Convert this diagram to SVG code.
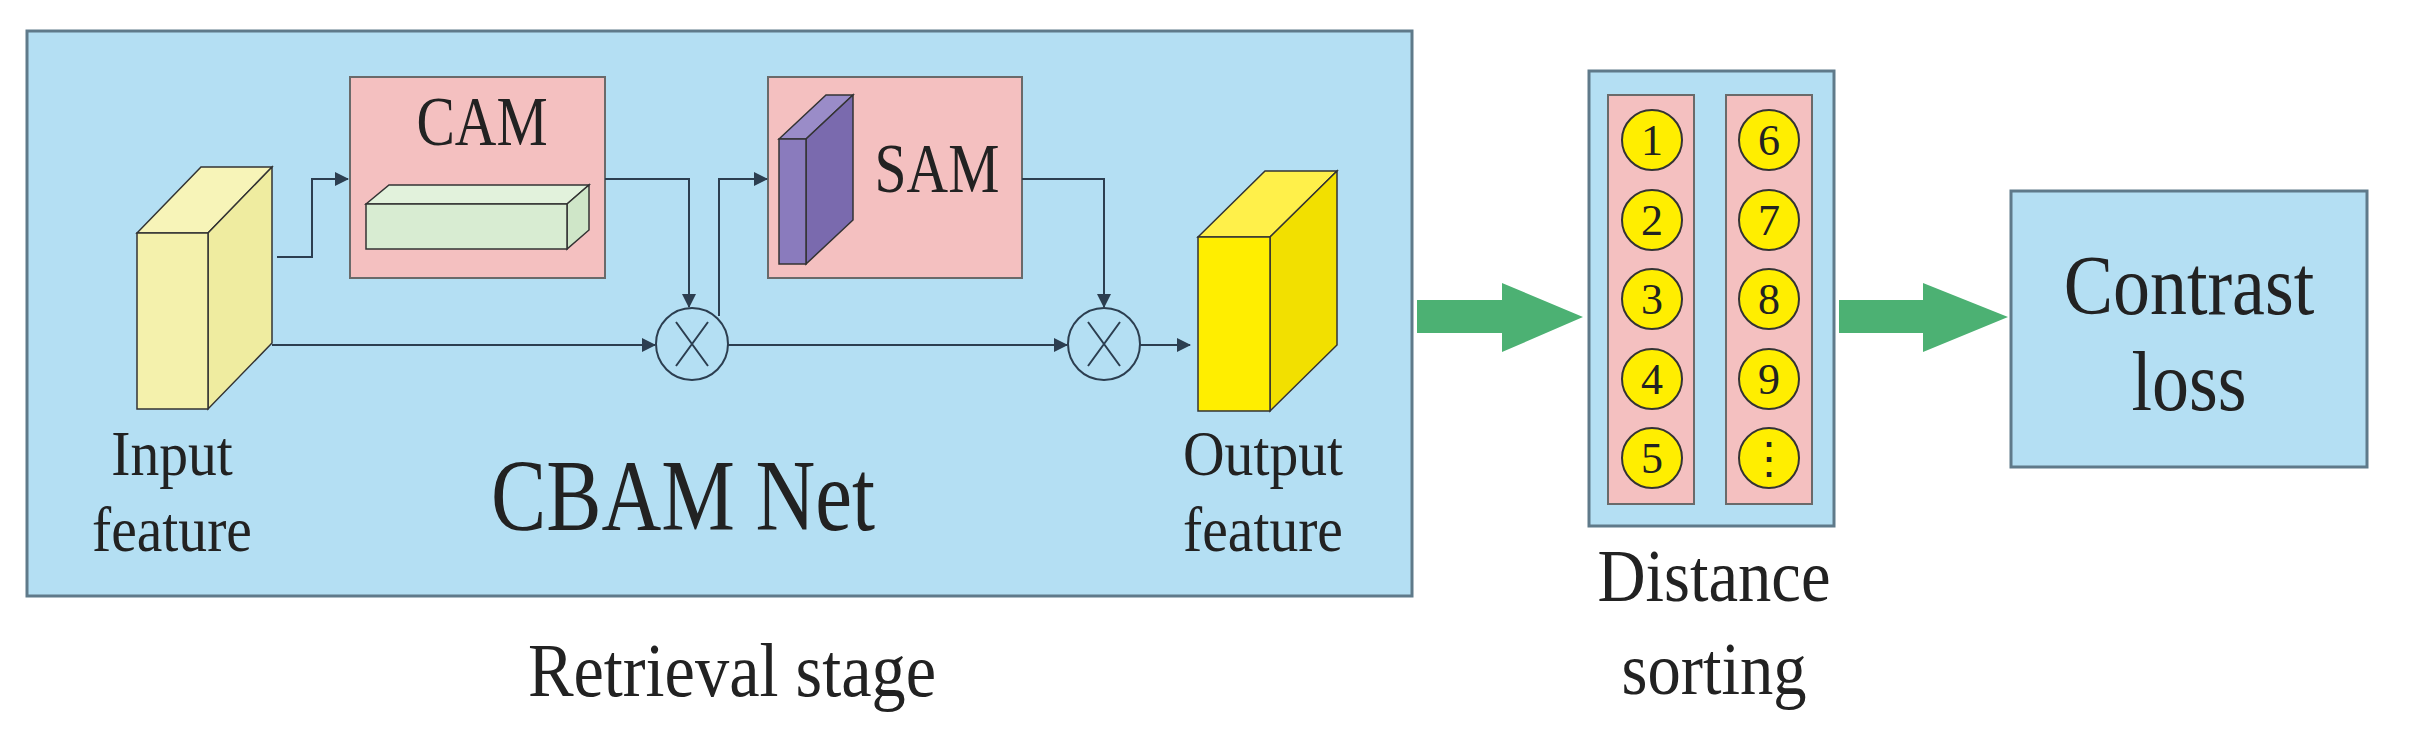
<svg xmlns="http://www.w3.org/2000/svg" width="2410" height="745" viewBox="0 0 2410 745">
<style>
text{font-family:"Liberation Serif","Times New Roman",serif;fill:#222;text-anchor:middle}
.blue{fill:#b4dff3;stroke:#5f7a8a;stroke-width:3}
.pink{fill:#f4c0c0;stroke:#6a6a6a;stroke-width:2}
.ln{fill:none;stroke:#2c3e50;stroke-width:2}
.edge{stroke:#333;stroke-width:1.5}
.num{fill:#ffee00;stroke:#333;stroke-width:2}
.nt{font-size:44px}
.ga{fill:#4cb173}
</style>
<defs>
<marker id="ah" markerWidth="14" markerHeight="14" refX="13" refY="7" orient="auto" markerUnits="userSpaceOnUse"><path d="M0,0 L14,7 L0,14 z" fill="#2c3e50"/></marker>
</defs>
<rect x="0" y="0" width="2410" height="745" fill="#fff"/>
<g id="cbam">
<rect class="blue" x="27" y="31" width="1385" height="565"/>
<text x="683" y="530" font-size="92" transform="translate(683 530) scale(0.9 1.1) translate(-683 -530)">CBAM Net</text>
</g>
<g id="cam">
<rect class="pink" x="350" y="77" width="255" height="201"/>
<text x="482" y="145" font-size="64" transform="translate(482 145) scale(0.9 1.1) translate(-482 -145)">CAM</text>
<polygon points="366,204 389,185 589,185 567,204" fill="#e2f2dc" class="edge"/>
<polygon points="567,204 589,185 589,230 567,249" fill="#cfe6c8" class="edge"/>
<rect x="366" y="204" width="201" height="45" fill="#d8ecd2" class="edge"/>
</g>
<g id="sam">
<rect class="pink" x="768" y="77" width="254" height="201"/>
<text x="937" y="192" font-size="64" transform="translate(937 192) scale(0.9 1.1) translate(-937 -192)">SAM</text>
<polygon points="779,139 826,95 853,95 806,139" fill="#9a8cc8" class="edge"/>
<polygon points="806,139 853,95 853,220 806,264" fill="#7a6aae" class="edge"/>
<rect x="779" y="139" width="27" height="125" fill="#8a7bbd" class="edge"/>
</g>
<g id="input">
<polygon points="137,233 201,167 272,167 208,233" fill="#f7f4b8" class="edge"/>
<polygon points="208,233 272,167 272,343 208,409" fill="#efeca0" class="edge"/>
<rect x="137" y="233" width="71" height="176" fill="#f4f1ac" class="edge"/>
<text x="172" y="475" font-size="64" transform="translate(172 0) scale(0.9 1) translate(-172 0)">Input</text>
<text x="172" y="551" font-size="64" transform="translate(172 0) scale(0.9 1) translate(-172 0)">feature</text>
</g>
<g id="output">
<polygon points="1198,237 1265,171 1337,171 1270,237" fill="#fff04a" class="edge"/>
<polygon points="1270,237 1337,171 1337,345 1270,411" fill="#f2e000" class="edge"/>
<rect x="1198" y="237" width="72" height="174" fill="#ffee00" class="edge"/>
<text x="1263" y="475" font-size="64" transform="translate(1263 0) scale(0.9 1) translate(-1263 0)">Output</text>
<text x="1263" y="551" font-size="64" transform="translate(1263 0) scale(0.9 1) translate(-1263 0)">feature</text>
</g>
<g id="mul1"><circle cx="692" cy="344" r="36" fill="none" stroke="#2c3e50" stroke-width="2"/><path class="ln" d="M676,322 L708,366 M708,322 L676,366"/></g>
<g id="mul2"><circle cx="1104" cy="344" r="36" fill="none" stroke="#2c3e50" stroke-width="2"/><path class="ln" d="M1088,322 L1120,366 M1120,322 L1088,366"/></g>
<g id="connectors">
<path class="ln" d="M277,257 H312 V179 H348" marker-end="url(#ah)"/>
<path class="ln" d="M272,345 H655" marker-end="url(#ah)"/>
<path class="ln" d="M605,179 H689 V307" marker-end="url(#ah)"/>
<path class="ln" d="M728,345 H1067" marker-end="url(#ah)"/>
<path class="ln" d="M719,316 V179 H767" marker-end="url(#ah)"/>
<path class="ln" d="M1022,179 H1104 V307" marker-end="url(#ah)"/>
<path class="ln" d="M1140,345 H1190" marker-end="url(#ah)"/>
<polygon class="ga" points="1417,300 1502,300 1502,283 1583,317 1502,352 1502,333 1417,333"/>
<polygon class="ga" points="1839,300 1923,300 1923,283 2008,317 1923,352 1923,333 1839,333"/>
</g>
<g id="sorting">
<rect class="blue" x="1589" y="71" width="245" height="455"/>
<rect class="pink" x="1608" y="95" width="86" height="409"/>
<rect class="pink" x="1726" y="95" width="86" height="409"/>
<circle class="num" cx="1652" cy="140" r="30"/><text class="nt" x="1652" y="155">1</text>
<circle class="num" cx="1652" cy="220" r="30"/><text class="nt" x="1652" y="235">2</text>
<circle class="num" cx="1652" cy="299" r="30"/><text class="nt" x="1652" y="314">3</text>
<circle class="num" cx="1652" cy="379" r="30"/><text class="nt" x="1652" y="394">4</text>
<circle class="num" cx="1652" cy="458" r="30"/><text class="nt" x="1652" y="473">5</text>
<circle class="num" cx="1769" cy="140" r="30"/><text class="nt" x="1769" y="155">6</text>
<circle class="num" cx="1769" cy="220" r="30"/><text class="nt" x="1769" y="235">7</text>
<circle class="num" cx="1769" cy="299" r="30"/><text class="nt" x="1769" y="314">8</text>
<circle class="num" cx="1769" cy="379" r="30"/><text class="nt" x="1769" y="394">9</text>
<circle class="num" cx="1769" cy="458" r="30"/><text class="nt" x="1769" y="473">⋮</text>
<text x="1714" y="601" font-size="74" transform="translate(1714 0) scale(0.9 1) translate(-1714 0)">Distance</text>
<text x="1714" y="694" font-size="74" transform="translate(1714 0) scale(0.9 1) translate(-1714 0)">sorting</text>
</g>
<g id="contrast">
<rect class="blue" x="2011" y="191" width="356" height="276"/>
<text x="2189" y="314" font-size="84" transform="translate(2189 0) scale(0.88 1) translate(-2189 0)">Contrast</text>
<text x="2189" y="410" font-size="84" transform="translate(2189 0) scale(0.88 1) translate(-2189 0)">loss</text>
</g>
<g id="stage"><text x="732" y="696" font-size="76" transform="translate(732 0) scale(0.9 1) translate(-732 0)">Retrieval stage</text></g>
</svg>
